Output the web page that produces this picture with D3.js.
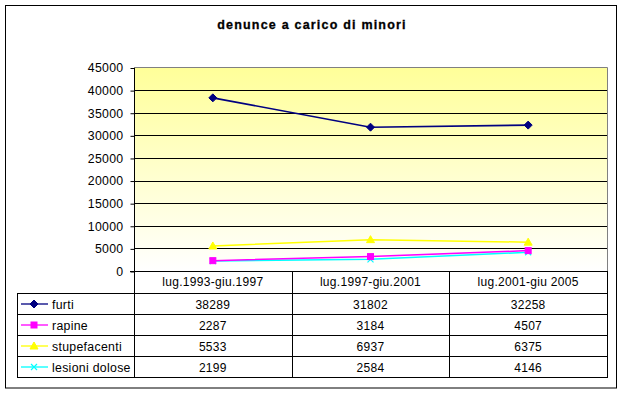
<!DOCTYPE html>
<html>
<head>
<meta charset="utf-8">
<script src="https://cdn.jsdelivr.net/npm/d3@7"></script>
<style>
  html, body { margin: 0; padding: 0; background: #fff; }
  svg { display: block; font-family: Arial, "Liberation Sans", sans-serif; }
  svg text { letter-spacing: 0.3px; }
</style>
</head>
<body>
<svg id="chart" width="624" height="395"></svg>
<script>
const title = "denunce a carico di minori";
const categories = ["lug.1993-giu.1997", "lug.1997-giu.2001", "lug.2001-giu 2005"];
const seriesNames = ["furti", "rapine", "stupefacenti", "lesioni dolose"];
const furti = [38289, 31802, 32258];
const rapine = [2287, 3184, 4507];
const stupefacenti = [5533, 6937, 6375];
const lesioni = [2199, 2584, 4146];
const yTicks = [0, 5000, 10000, 15000, 20000, 25000, 30000, 35000, 40000, 45000];

const seriesValues = [furti, rapine, stupefacenti, lesioni];
const colors = ["#000080", "#FF00FF", "#FFFF00", "#00FFFF"];
const markers = ["diamond", "square", "triangle", "cross"];

const svg = d3.select("#chart");

svg.append("rect").attr("x", 5.5).attr("y", 5.5).attr("width", 611).attr("height", 382.5)
  .attr("fill", "#fff").attr("stroke", "#000").attr("stroke-width", 1);

svg.append("text").attr("x", 312).attr("y", 28.5).attr("text-anchor", "middle")
  .attr("font-size", "12.5px").attr("font-weight", "bold")
  .style("letter-spacing", "1.2px")
  .attr("stroke", "#000").attr("stroke-width", 0.3)
  .text(title);

const pLeft = 134, pRight = 607, pTop = 67.5, pBottom = 271;
const x = d3.scaleBand().domain(categories).range([pLeft, pRight]).padding(0);
const y = d3.scaleLinear().domain([0, 45000]).range([pBottom, pTop]);
const cx = c => x(c) + x.bandwidth() / 2;

const defs = svg.append("defs");
const grad = defs.append("linearGradient").attr("id", "bg").attr("x1", 0).attr("y1", 0).attr("x2", 0).attr("y2", 1);
grad.append("stop").attr("offset", "0%").attr("stop-color", "#FFFF99");
grad.append("stop").attr("offset", "100%").attr("stop-color", "#FFFFFF");
svg.append("rect").attr("x", pLeft).attr("y", pTop).attr("width", pRight - pLeft).attr("height", pBottom - pTop)
  .attr("fill", "url(#bg)");

svg.append("g").selectAll("line").data(yTicks.filter(t => t > 0 && t < 45000)).join("line")
  .attr("x1", pLeft).attr("x2", pRight)
  .attr("y1", d => Math.round(y(d)) + 0.5).attr("y2", d => Math.round(y(d)) + 0.5)
  .attr("stroke", "#000").attr("stroke-width", 1);

svg.append("path").attr("d", `M${pLeft},${pTop}H${pRight + 0.5}V${pBottom}`)
  .attr("fill", "none").attr("stroke", "#808080").attr("stroke-width", 1);

const yAxis = d3.axisLeft(y).tickValues(yTicks).tickSize(4).tickPadding(7).tickFormat(d3.format("d"));
const ya = svg.append("g").attr("transform", `translate(${pLeft + 0.5},0.5)`).call(yAxis);
ya.select(".domain").remove();
ya.selectAll("text").attr("font-size", "12.3px").attr("font-family", "Arial, 'Liberation Sans', sans-serif").attr("fill", "#000");
ya.selectAll("line").attr("stroke", "#000");

const rowTop = 293, rowH = 21, tableLeft = 17;
const rowY = i => rowTop + i * rowH;
const tableBottom = rowY(seriesNames.length);
const g = svg.append("g").attr("stroke", "#000").attr("stroke-width", 1).attr("shape-rendering", "crispEdges");
g.append("line").attr("x1", pLeft - 4).attr("x2", pRight).attr("y1", pBottom + 0.5).attr("y2", pBottom + 0.5);
g.append("line").attr("x1", pLeft + 0.5).attr("x2", pLeft + 0.5).attr("y1", pTop).attr("y2", tableBottom);
const seps = categories.slice(1).map(c => x(c)).concat([pRight]);
g.selectAll(".vs").data(seps).join("line")
  .attr("x1", d => Math.round(d) + 0.5).attr("x2", d => Math.round(d) + 0.5)
  .attr("y1", pBottom).attr("y2", tableBottom);
g.append("line").attr("x1", tableLeft + 0.5).attr("x2", tableLeft + 0.5).attr("y1", rowTop).attr("y2", tableBottom);
g.selectAll(".hs").data(d3.range(seriesNames.length + 1)).join("line")
  .attr("x1", tableLeft).attr("x2", pRight + 1)
  .attr("y1", i => rowY(i) + 0.5).attr("y2", i => rowY(i) + 0.5);

svg.append("g").selectAll("text").data(categories).join("text")
  .attr("x", d => cx(d)).attr("y", 286).attr("text-anchor", "middle").attr("font-size", "12px")
  .text(d => d);

seriesValues.forEach((vals, i) => {
  svg.append("g").selectAll("text").data(vals).join("text")
    .attr("x", (d, j) => cx(categories[j])).attr("y", rowY(i) + 15.5)
    .attr("text-anchor", "middle").attr("font-size", "12px").text(d => d);
});

function drawMarker(sel, type, color) {
  if (type === "diamond") {
    sel.append("path").attr("d", "M0,-4L4,0L0,4L-4,0Z").attr("fill", color).attr("stroke", color);
  } else if (type === "square") {
    sel.append("rect").attr("x", -3).attr("y", -3).attr("width", 6).attr("height", 6).attr("fill", color).attr("stroke", color);
  } else if (type === "triangle") {
    sel.append("path").attr("d", "M0,-4L4,3L-4,3Z").attr("fill", color).attr("stroke", color);
  } else {
    sel.append("path").attr("d", "M-3,-3L3,3M-3,3L3,-3").attr("fill", "none").attr("stroke", color).attr("stroke-width", 1.2);
  }
}

seriesNames.forEach((name, i) => {
  const yy = rowY(i) + 11;
  svg.append("line").attr("x1", 21).attr("x2", 48).attr("y1", yy).attr("y2", yy)
    .attr("stroke", colors[i]).attr("stroke-width", 1.3);
  drawMarker(svg.append("g").attr("transform", `translate(34,${yy})`), markers[i], colors[i]);
  svg.append("text").attr("x", 52).attr("y", rowY(i) + 15.5).attr("font-size", "12.3px").text(name);
});

const line = d3.line().x((d, j) => cx(categories[j])).y(d => y(d));
[3, 2, 1, 0].forEach(i => {
  svg.append("path").datum(seriesValues[i]).attr("d", line)
    .attr("fill", "none").attr("stroke", colors[i]).attr("stroke-width", i === 0 ? 1.6 : 1.5);
});
[3, 2, 1, 0].forEach(i => {
  svg.append("g").selectAll("g").data(seriesValues[i]).join("g")
    .attr("transform", (d, j) => `translate(${cx(categories[j])},${y(d)})`)
    .each(function () { drawMarker(d3.select(this), markers[i], colors[i]); });
});
</script>
</body>
</html>
